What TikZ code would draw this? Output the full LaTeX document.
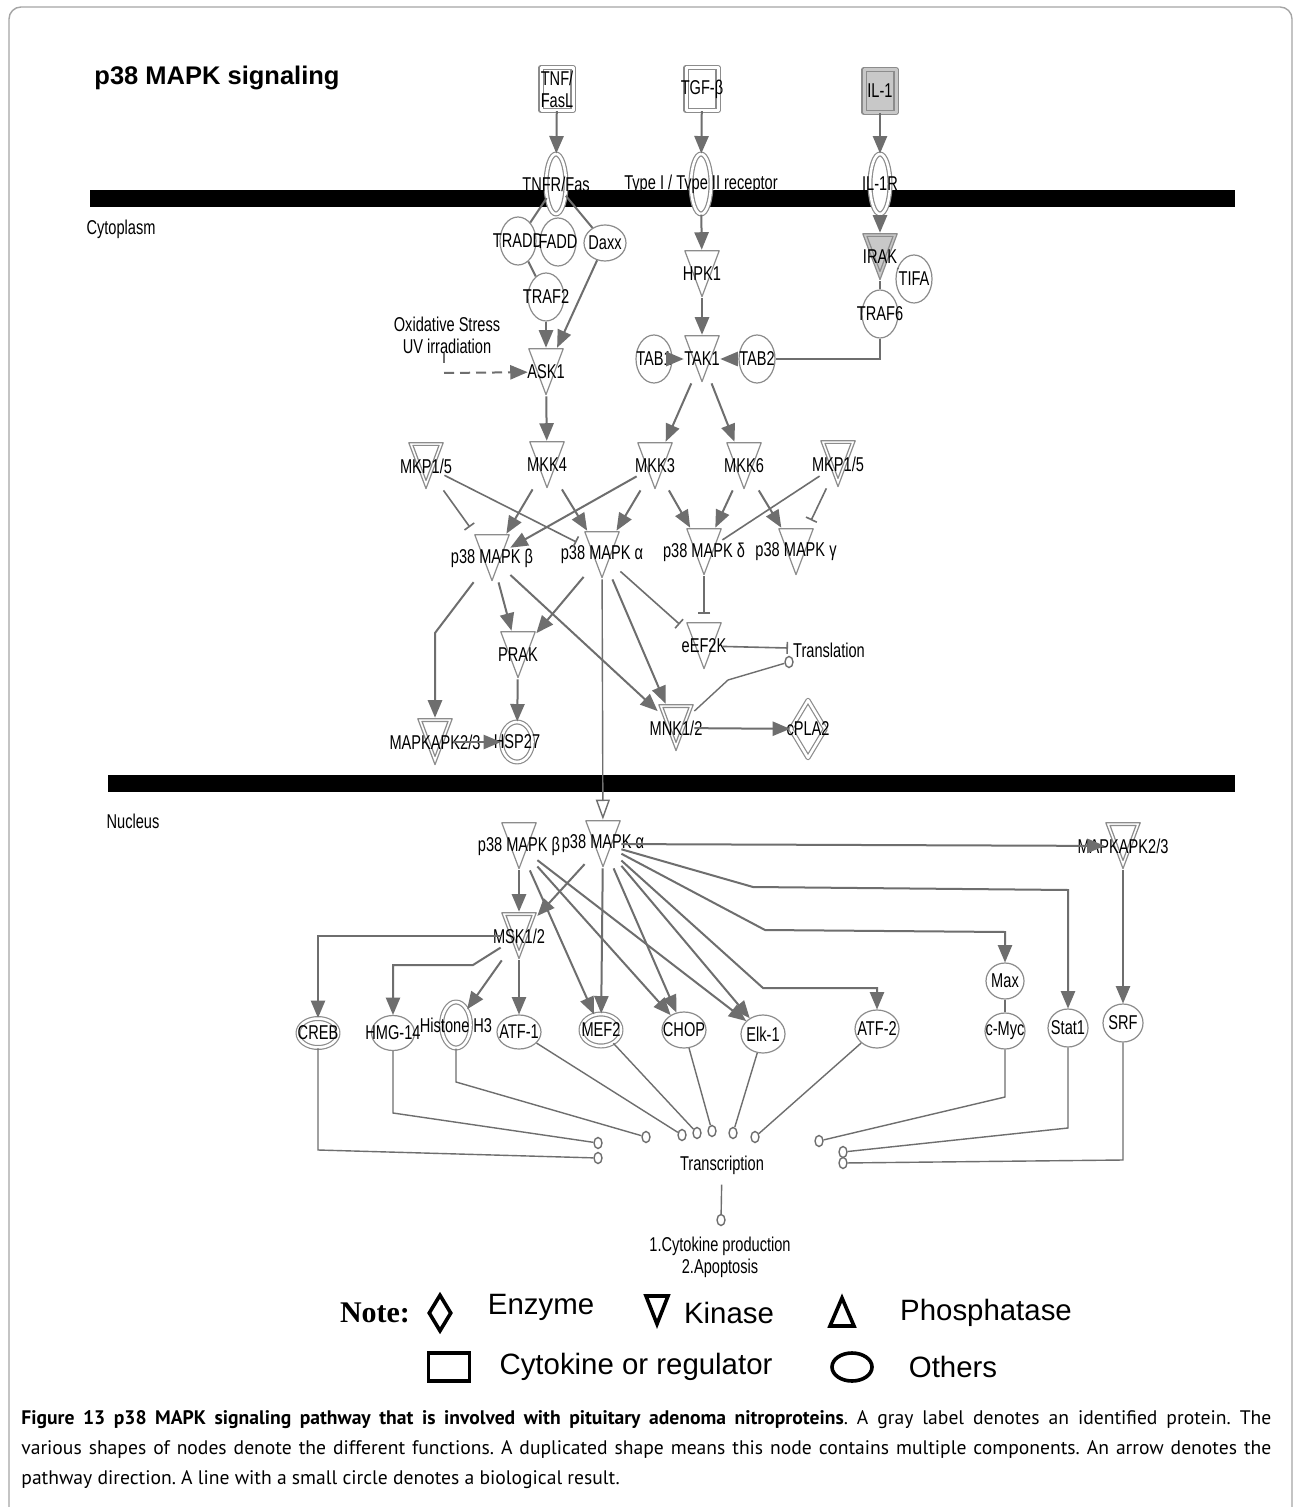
\documentclass[tikz,border=0pt]{standalone}
\usepackage{fontspec}
\setmainfont{Liberation Sans}
\newfontfamily\narrowfont[FakeStretch=0.73]{Liberation Sans}
\newfontfamily\capfont{PT Sans}
\newfontfamily\notefont{Liberation Serif}
\usepackage{tikz}
\usetikzlibrary{shapes.geometric, arrows, arrows.meta}
\definecolor{linegray}{RGB}{110,110,110}
\definecolor{nodegray}{RGB}{140,140,140}
\definecolor{fillgray}{RGB}{200,200,200}
\definecolor{framegray}{RGB}{165,165,165}
\tikzstyle{lbl} = [font=\narrowfont\fontsize{10}{11}\selectfont, inner sep=0pt, align=center]
\tikzstyle{nodeline} = [draw=nodegray, line width=0.6pt, line join=round]
\tikzstyle{other} = [ellipse, nodeline, fill=white, inner sep=0pt, minimum width=18pt, minimum height=24pt, label={[lbl]center:#1}]
\tikzstyle{dother} = [other=#1, double=white, double distance=1.3pt]
\tikzstyle{cytokine} = [rectangle, nodeline, fill=white, double=white, double distance=1.5pt, inner sep=0pt, minimum width=16pt, minimum height=21.5pt, label={[lbl]center:#1}]
\tikzstyle{enzyme} = [diamond, nodeline, fill=white, double=white, double distance=1.3pt, inner sep=0pt, minimum width=17.5pt, minimum height=29pt, label={[lbl]center:#1}]
\tikzstyle{tri} = [rectangle, inner sep=0pt, minimum width=18pt, minimum height=24pt]
\tikzstyle{kinase} = [tri, label={[lbl]center:#1}, path picture={\draw[nodeline] ([xshift=0.4pt,yshift=-0.4pt]path picture bounding box.north west) -- ([xshift=-0.4pt,yshift=-0.4pt]path picture bounding box.north east) -- ([yshift=0.7pt]path picture bounding box.south) -- cycle;}]
\tikzstyle{dkinase} = [tri, label={[lbl]center:#1}, path picture={\draw[nodeline] ([xshift=0.4pt,yshift=-0.4pt]path picture bounding box.north west) -- ([xshift=-0.4pt,yshift=-0.4pt]path picture bounding box.north east) -- ([yshift=0.7pt]path picture bounding box.south) -- cycle; \draw[nodeline] ([xshift=2.5pt,yshift=-1.7pt]path picture bounding box.north west) -- ([xshift=-2.5pt,yshift=-1.7pt]path picture bounding box.north east) -- ([yshift=4.8pt]path picture bounding box.south) -- cycle;}]
\tikzstyle{gkinase} = [tri, label={[lbl]center:#1}, path picture={\filldraw[nodeline, fill=fillgray] ([xshift=0.4pt,yshift=-0.4pt]path picture bounding box.north west) -- ([xshift=-0.4pt,yshift=-0.4pt]path picture bounding box.north east) -- ([yshift=0.7pt]path picture bounding box.south) -- cycle; \draw[nodeline] ([xshift=2.5pt,yshift=-1.7pt]path picture bounding box.north west) -- ([xshift=-2.5pt,yshift=-1.7pt]path picture bounding box.north east) -- ([yshift=4.8pt]path picture bounding box.south) -- cycle;}]
\tikzstyle{arrow} = [draw=linegray, line width=1pt, ->, >=triangle 45]
\tikzstyle{link} = [draw=linegray, line width=1pt]
\tikzstyle{inhibit} = [draw=linegray, line width=0.8pt, -{Bar[width=6pt]}, shorten >=4pt]
\tikzstyle{result} = [draw=linegray, line width=0.7pt]
\tikzstyle{dasharrow} = [arrow, dash pattern=on 5pt off 3pt]
\tikzstyle{openarrow} = [draw=linegray, line width=0.7pt, -{Triangle[open, length=10pt, width=7pt]}]
\tikzstyle{resdot} = [ellipse, draw=linegray, line width=0.7pt, fill=white, inner sep=0pt, minimum width=4pt, minimum height=5.5pt]
\tikzstyle{legline} = [draw=black, line width=1.8pt, line join=miter]
\tikzstyle{legtext} = [font=\fontsize{14.7}{17}\selectfont, inner sep=0pt]
\tikzstyle{legdiamond} = [diamond, legline, inner sep=0pt, minimum width=11.5pt, minimum height=18.5pt]
\tikzstyle{legrect} = [rectangle, legline, inner sep=0pt, minimum width=20.5pt, minimum height=14pt]
\tikzstyle{legoval} = [ellipse, legline, inner sep=0pt, minimum width=20pt, minimum height=14pt]
\tikzstyle{caption} = [font=\capfont\fontsize{9.8}{15}\selectfont\frenchspacing, inner sep=0pt, align=left]
\begin{document}
\begin{tikzpicture}[x=0.5pt, y=-0.5pt]
\fill[white] (0,0) rectangle (1294,1507);
\useasboundingbox (0,0) rectangle (1294,1507);
\draw[framegray, line width=0.7pt, rounded corners=6pt] (9,1507) -- (9,7) -- (1292,7) -- (1292,1507);
\node (title) [font=\bfseries\fontsize{12.75}{15}\selectfont] at (217,78) {p38 MAPK signaling};

\fill[black] (90,190) rectangle (1235,207);
\fill[black] (108,775) rectangle (1235,792);
\node (cyto) [lbl] at (121,229) {Cytoplasm};
\node (nucl) [lbl] at (133,821) {Nucleus};

\node (tnf) [cytokine={TNF/\\FasL}] at (557,89) {};
\node (tgf) [cytokine=TGF-β] at (702,89) {};
\node (il1) [cytokine=IL-1, fill=fillgray, double=fillgray] at (880,91) {};
\node (tnfr) [dother=TNFR/Fas, minimum width=10pt, minimum height=30pt] at (556,184) {};
\node (tgfr) [dother={Type I / Type II receptor}, minimum width=10pt, minimum height=30pt] at (701,184) {};
\node (il1r) [dother=IL-1R, minimum width=10pt, minimum height=30pt] at (880,184) {};
\node (tradd) [other=TRADD] at (518,241) {};
\node (fadd) [other=FADD] at (558,242) {};
\node (daxx) [other=Daxx, minimum width=21pt, minimum height=18pt] at (605,243) {};
\node (traf2) [other=TRAF2] at (546,297) {};
\node (ask1) [kinase=ASK1] at (546,372) {};
\node (oxid) [lbl] at (447,335) {Oxidative Stress\\UV irradiation};
\coordinate (oxstart) at (444,373);
\node (hpk1) [kinase=HPK1] at (702,274) {};
\node (tak1) [kinase=TAK1] at (702,359) {};
\node (tab1) [other=TAB1] at (654,359) {};
\node (tab2) [other=TAB2] at (757,359) {};
\node (irak) [gkinase=IRAK] at (880,257) {};
\node (tifa) [other=TIFA] at (914,279) {};
\node (traf6) [other=TRAF6] at (880,314) {};

\node (mkpl) [dkinase=MKP1/5] at (426,466) {};
\node (mkk4) [kinase=MKK4] at (547,465) {};
\node (mkk3) [kinase=MKK3] at (655,466) {};
\node (mkk6) [kinase=MKK6] at (744,466) {};
\node (mkpr) [dkinase=MKP1/5] at (838,464) {};
\node (p38b) [kinase={p38 MAPK β}] at (492,558) {};
\node (p38a) [kinase={p38 MAPK α}] at (602,555) {};
\node (p38d) [kinase={p38 MAPK δ}] at (704,552) {};
\node (p38g) [kinase={p38 MAPK γ}] at (796,552) {};
\node (eef2k) [kinase=eEF2K] at (704,646) {};
\node (prak) [kinase=PRAK] at (518,655) {};
\node (hsp27) [dother=HSP27, minimum width=15.5pt, minimum height=20pt] at (517,742) {};
\node (mapkapk) [dkinase=MAPKAPK2/3] at (435,742) {};
\node (mnk) [dkinase=MNK1/2] at (676,728) {};
\node (cpla2) [enzyme=cPLA2] at (808,729) {};
\node (transl) [lbl] at (829,650) {Translation};
\coordinate (transbar) at (788,648);
\node (transdot) [resdot] at (789,662) {};

\node (p38bn) [kinase={p38 MAPK β}] at (519,846) {};
\node (p38an) [kinase={p38 MAPK α}] at (603,844) {};
\node (mapkapkn) [dkinase=MAPKAPK2/3] at (1123,846) {};
\node (msk) [dkinase=MSK1/2] at (519,936) {};
\node (creb) [dother=CREB, minimum width=20pt, minimum height=14.5pt] at (318,1033) {};
\node (hmg) [other=HMG-14, minimum width=21.5pt, minimum height=17.5pt] at (393,1033) {};
\node (histone) [dother={Histone H3}, minimum width=14.5pt, minimum height=23pt] at (456,1025) {};
\node (atf1) [other=ATF-1, minimum width=22pt, minimum height=17pt] at (519,1032) {};
\node (mef2) [dother=MEF2, minimum width=20pt, minimum height=16pt] at (601,1030) {};
\node (chop) [other=CHOP, minimum width=22pt, minimum height=18pt] at (684,1030) {};
\node (elk1) [other=Elk-1, minimum width=22pt, minimum height=19pt] at (763,1034) {};
\node (atf2) [other=ATF-2, minimum width=22pt, minimum height=19pt] at (877,1029) {};
\node (max) [other=Max, minimum width=19pt, minimum height=18pt] at (1005,981) {};
\node (cmyc) [other=c-Myc, minimum width=20pt, minimum height=18pt] at (1005,1031) {};
\node (stat1) [other=Stat1, minimum width=20pt, minimum height=19pt] at (1068,1028) {};
\node (srf) [other=SRF, minimum width=20pt, minimum height=19pt] at (1123,1023) {};
\node (transcr) [lbl] at (722,1165) {Transcription};
\node (dcreb) [resdot] at (598,1158) {};
\node (dhmg) [resdot] at (598,1143) {};
\node (dhis) [resdot] at (646,1137) {};
\node (datf1) [resdot] at (682,1135) {};
\node (dmef) [resdot] at (697,1133) {};
\node (dchop) [resdot] at (712,1131) {};
\node (delk) [resdot] at (733,1133) {};
\node (datf2) [resdot] at (755,1137) {};
\node (dmyc) [resdot] at (819,1141) {};
\node (dstat) [resdot] at (843,1152) {};
\node (dsrf) [resdot] at (843,1163) {};
\node (outdot) [resdot] at (721,1220) {};
\node (outcome) [lbl] at (720,1257) {1.Cytokine production\\2.Apoptosis};

\draw [arrow] (tnf) -- (tnfr);
\draw [arrow] (tgf) -- (tgfr);
\draw [arrow] (il1) -- (il1r);
\draw [link] (tnfr) -- (tradd);
\draw [link] (tnfr) -- (daxx);
\draw [link] (tradd) -- (traf2);
\draw [arrow] (traf2) -- (ask1);
\draw [arrow] (daxx) -- (ask1);
\draw [link, line width=0.6pt] (444,353) -- (444,363);
\draw [dasharrow] (oxstart) -- (ask1);
\draw [arrow] (tgfr) -- (hpk1);
\draw [arrow] (hpk1) -- (tak1);
\draw [arrow] (il1r) -- (irak);
\draw [link] (irak) -- (traf6);
\draw [link] (irak) -- (tifa);
\draw [link] (traf6) |- (tab2);
\draw [arrow] (tab2) -- (tak1);
\draw [arrow] (tab1) -- (tak1);

\draw [arrow] (ask1) -- (mkk4);
\draw [arrow] (tak1) -- (mkk3);
\draw [arrow] (tak1) -- (mkk6);
\draw [arrow] (mkk4) -- (p38b);
\draw [arrow] (mkk4) -- (p38a);
\draw [arrow] (mkk3) -- (p38b);
\draw [arrow] (mkk3) -- (p38a);
\draw [arrow] (mkk3) -- (p38d);
\draw [arrow] (mkk6) -- (p38d);
\draw [arrow] (mkk6) -- (p38g);
\draw [inhibit] (mkpl) -- (p38b);
\draw [inhibit] (mkpl) -- (p38a);
\draw [inhibit] (mkpr) -- (p38g);
\draw [link, line width=0.8pt] (mkpr) -- (p38d);
\draw [arrow] (p38b) -- (435,633) -- (mapkapk);
\draw [arrow] (p38b) -- (prak);
\draw [arrow] (p38b) -- (mnk);
\draw [arrow] (p38a) -- (prak);
\draw [arrow] (p38a) -- (mnk);
\draw [inhibit] (p38a) -- (eef2k);
\draw [inhibit] (p38d) -- (eef2k);
\draw [arrow] (prak) -- (hsp27);
\draw [arrow] (mapkapk) -- (hsp27);
\draw [arrow] (mnk) -- (cpla2);
\draw [inhibit, shorten >=0pt] (eef2k) -- (transbar);
\draw [result] (mnk) -- (728,680) -- (transdot);
\draw [openarrow] (p38a) -- (p38an);

\draw [arrow] (p38an) -- (mapkapkn);
\draw [arrow] (p38bn) -- (msk);
\draw [arrow] (p38an) -- (msk);
\draw [arrow] (p38an) -- (mef2);
\draw [arrow] (p38bn) -- (mef2);
\draw [arrow] (p38bn) -- (chop);
\draw [arrow] (p38an) -- (chop);
\draw [arrow] (p38bn) -- (elk1);
\draw [arrow] (p38an) -- (elk1);
\draw [arrow] (p38an) -- (763,988) -- (877,988) -- (atf2);
\draw [arrow] (p38an) -- (765,930) -- (1005,932) -- (max);
\draw [arrow] (p38an) -- (753,887) -- (1068,890) -- (stat1);
\draw [arrow] (mapkapkn) -- (srf);
\draw [link, line width=0.7pt] (max) -- (cmyc);
\draw [arrow] (msk) -| (creb);
\draw [arrow] (msk) -- (473,965) -| (hmg);
\draw [arrow] (msk) -- (histone);
\draw [arrow] (msk) -- (atf1);

\draw [result] (creb) -- (318,1150) -- (dcreb);
\draw [result] (hmg) -- (393,1113) -- (dhmg);
\draw [result] (histone) -- (456,1082) -- (dhis);
\draw [result] (atf1) -- (datf1);
\draw [result] (mef2) -- (dmef);
\draw [result] (chop) -- (dchop);
\draw [result] (elk1) -- (delk);
\draw [result] (atf2) -- (datf2);
\draw [result] (cmyc) -- (1005,1097) -- (dmyc);
\draw [result] (stat1) -- (1068,1128) -- (dstat);
\draw [result] (srf) -- (1123,1160) -- (dsrf);
\draw [result, shorten <=5pt] (transcr) -- (outdot);

\node (note) [font=\notefont\bfseries\fontsize{15}{17}\selectfont, inner sep=0pt] at (375,1313) {Note:};
\node (legenz) [legdiamond] at (440,1313) {};
\node (enztxt) [legtext] at (541,1307) {Enzyme};
\coordinate (legkin) at (657,1310);
\draw [legline] ([xshift=-5.5pt,yshift=7pt]legkin) -- ([xshift=5.5pt,yshift=7pt]legkin) -- ([yshift=-7pt]legkin) -- cycle;
\node (kintxt) [legtext] at (729,1313) {Kinase};
\coordinate (legphos) at (842,1312);
\draw [legline] ([xshift=-6pt,yshift=-7pt]legphos) -- ([xshift=6pt,yshift=-7pt]legphos) -- ([yshift=7pt]legphos) -- cycle;
\node (phostxt) [legtext] at (986,1313) {Phosphatase};
\node (legcyt) [legrect] at (449,1367) {};
\node (cyttxt) [legtext] at (636,1367) {Cytokine or regulator};
\node (legoth) [legoval] at (852,1367) {};
\node (othtxt) [legtext] at (953,1367) {Others};

\node (cap) [caption, anchor=north west] at (21,1410) {\makebox[625pt][s]{{\bfseries Figure 13 p38 MAPK signaling pathway that is involved with pituitary adenoma nitroproteins}. A gray label denotes an identified protein. The}\\\makebox[625pt][s]{various shapes of nodes denote the different functions. A duplicated shape means this node contains multiple components. An arrow denotes the}\\pathway direction. A line with a small circle denotes a biological result.};
\end{tikzpicture}
\end{document}
